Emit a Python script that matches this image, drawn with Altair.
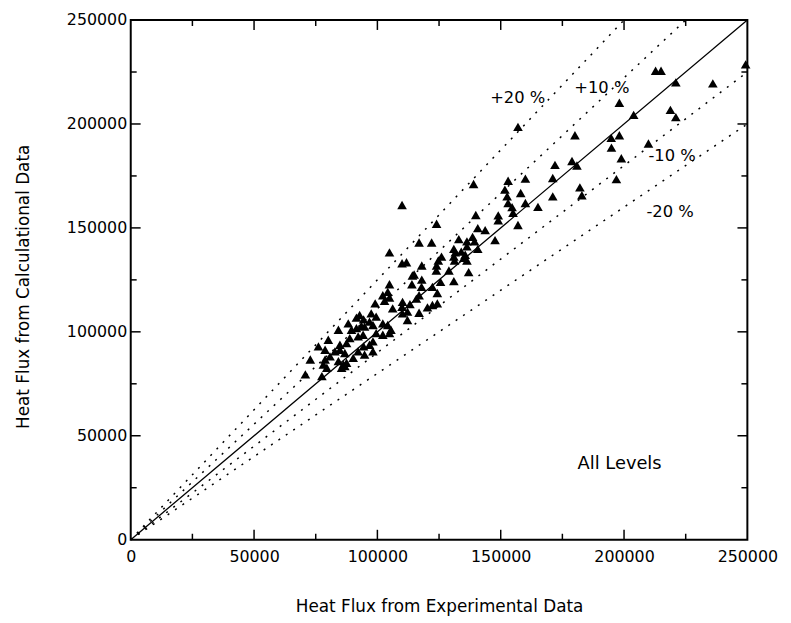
import altair as alt
import pandas as pd

# ---- data ----
exp_flux = [
    249300, 212800, 215000, 221000, 236000, 198100, 218800, 221000, 203900, 180100, 194800, 198100,
    194900, 209900, 198900, 172000, 178900, 180900, 171100, 196900, 182100, 182900, 171100, 165100,
    157000, 139000, 153000, 160000, 151700, 152600, 158100, 153000, 154600, 160000,
    110000, 155000, 149000, 149000, 157000, 139900, 124000, 143700, 140700, 138600, 139400, 147700,
    133000, 136300, 136300, 140700, 116900, 122000, 131000, 131600, 134000, 135600, 131000, 131300,
    110000, 111800, 118000, 136300, 135000, 124700, 126000, 124000, 123900, 129000, 137000, 114900,
    118000, 114000, 117900, 125600, 131000, 122300, 124300, 116900, 115800, 110200, 110000, 113200,
    120300, 112200, 116900,
    104900, 114200,
    104900, 102200, 104200, 104900, 99100, 102900, 106200, 110200, 112200, 122300, 124300, 91500,
    92800, 94400, 97500, 99500, 96800, 88200, 84200, 89500, 91500, 93500, 94800, 98200,
    102200, 104200, 105500, 99500, 102200, 104900, 98200, 88800, 92200, 94200, 80100, 84800,
    87500, 76100, 78800, 82800, 84800, 86800, 92200, 94400, 96800, 90200, 94800, 98200,
    72800, 78800, 80800, 78100, 79500, 84200, 86200, 87500, 85500, 86800, 70800, 77500,
]
calc_flux = [
    228700, 225600, 225600, 220000, 219500, 210200, 206800, 203300, 204400, 194600, 193300, 194600,
    188600, 190600, 183500, 180300, 182200, 180000, 174000, 173500, 169500, 165700, 165200, 160100,
    198600, 171100, 172700, 173700, 168400, 165200, 166800, 162000, 160000, 162000,
    161000, 157300, 156000, 153700, 151400, 156200, 152000, 148900, 149900, 145700, 143500, 144100,
    144600, 143500, 141100, 139900, 143000, 143000, 139900, 138200, 138600, 137100, 136200, 134300,
    133000, 133500, 131900, 134300, 135600, 134300, 136200, 131900, 129500, 129500, 128700, 127600,
    125100, 122900, 121600, 124000, 124400, 121600, 118700, 117600, 116000, 114400, 112000, 113300,
    111800, 109700, 109200,
    138200, 127100,
    122900, 117600, 119200, 116500, 113700, 114900, 111300, 108900, 105700, 112900, 113700, 106800,
    108100, 106000, 108900, 107300, 104900, 104100, 101000, 101000, 101800, 102900, 102500, 103300,
    104100, 103300, 101000, 99400, 98600, 99400, 95400, 97000, 97800, 98600, 96200, 93800,
    94600, 93000, 91400, 90600, 91400, 89800, 90600, 93000, 93800, 87500, 89000, 90600,
    86700, 86700, 88200, 84300, 82700, 85900, 84300, 85100, 82700, 83500, 79500, 78700,
]

major_ticks = [0, 50000, 100000, 150000, 200000, 250000]
minor_ticks = [25000, 75000, 125000, 175000, 225000]
axis_max = 250000

ref_labels = ["+20 %", "+10 %", "-10 %", "-20 %"]
ref_slopes = [1.25, 1 / 0.9, 0.9, 0.8]
ref_label_x = [156900, 191000, 219500, 218700]
ref_label_y = [212400, 217100, 184500, 157600]

note_text = ["All Levels"]
note_x = [198200]
note_y = [36200]

x_title = "Heat Flux from Experimental Data"
y_title = "Heat Flux from Calculational Data"

# ---- layout / style ----
W, H = 623, 525
FONT = "DejaVu Sans"
FS_LABEL = 16
FS_TITLE = 17
MAJ, MIN = 10, 6

xs = alt.Scale(domain=[0, axis_max], nice=False, zero=True)
ys = alt.Scale(domain=[0, axis_max], nice=False, zero=True)

x_axis = alt.Axis(values=major_ticks, format="d", ticks=False, domain=False, grid=False,
                  labelPadding=9, labelFlush=False, labelOverlap=False,
                  titleY=68, titleBaseline="middle")
y_axis = alt.Axis(values=major_ticks, format="d", ticks=False, domain=False, grid=False,
                  labelPadding=4, labelFlush=False, labelOverlap=False,
                  titleX=-108, titleY=269, titleBaseline="middle")


def X(field):
    return alt.X(field, scale=xs, axis=x_axis, title=x_title)


def Y(field):
    return alt.Y(field, scale=ys, axis=y_axis, title=y_title)


pts = pd.DataFrame({"exp": exp_flux, "calc": calc_flux})

line_rows = []
for lab, s in zip(ref_labels, ref_slopes):
    line_rows.append({"g": lab, "x": 0, "y": 0})
    line_rows.append({"g": lab, "x": min(axis_max, axis_max / s), "y": min(axis_max, axis_max * s)})
ref_df = pd.DataFrame(line_rows)
diag_df = pd.DataFrame({"x": [0, axis_max], "y": [0, axis_max]})

points = alt.Chart(pts).mark_point(
    shape="triangle-up", filled=True, color="black", size=95, opacity=1, strokeWidth=0
).encode(x=X("exp:Q"), y=Y("calc:Q"))

diag = alt.Chart(diag_df).mark_line(color="black", strokeWidth=1.3).encode(x=X("x:Q"), y=Y("y:Q"))
refs = alt.Chart(ref_df).mark_line(color="black", strokeWidth=1.5, strokeDash=[2, 7]).encode(
    x=X("x:Q"), y=Y("y:Q"), detail="g:N"
)

lab_df = pd.DataFrame({"t": ref_labels, "x": ref_label_x, "y": ref_label_y})
labels = alt.Chart(lab_df).mark_text(font=FONT, fontSize=16.5, color="black").encode(
    x=X("x:Q"), y=Y("y:Q"), text="t:N"
)
note_df = pd.DataFrame({"t": note_text, "x": note_x, "y": note_y})
note = alt.Chart(note_df).mark_text(font=FONT, fontSize=18, color="black").encode(
    x=X("x:Q"), y=Y("y:Q"), text="t:N"
)

inner_major = [v for v in major_ticks if 0 < v < axis_max]


def tick_layers(vals, ln):
    d = pd.DataFrame({"v": vals})
    base = alt.Chart(d).mark_rule(color="black", strokeWidth=1.5)
    return [
        base.encode(x=X("v:Q"), y=alt.value(H), y2=alt.value(H - ln)),
        base.encode(x=X("v:Q"), y=alt.value(0), y2=alt.value(ln)),
        base.encode(y=Y("v:Q"), x=alt.value(0), x2=alt.value(ln)),
        base.encode(y=Y("v:Q"), x=alt.value(W), x2=alt.value(W - ln)),
    ]


layers = [refs, diag, points, labels, note] + tick_layers(inner_major, MAJ) + tick_layers(minor_ticks, MIN)

chart = alt.layer(*layers).properties(
    width=W, height=H,
    autosize=alt.AutoSizeParams(type="none"),
    padding={"left": 124, "top": 9, "right": 36, "bottom": 81},
).configure_view(
    stroke="black", strokeWidth=2
).configure_axis(
    labelFont=FONT, labelFontSize=FS_LABEL, labelColor="black",
    titleFont=FONT, titleFontSize=FS_TITLE, titleFontWeight="normal", titleColor="black",
)

chart.save("out.html", embed_options={"renderer": "svg", "actions": False})
